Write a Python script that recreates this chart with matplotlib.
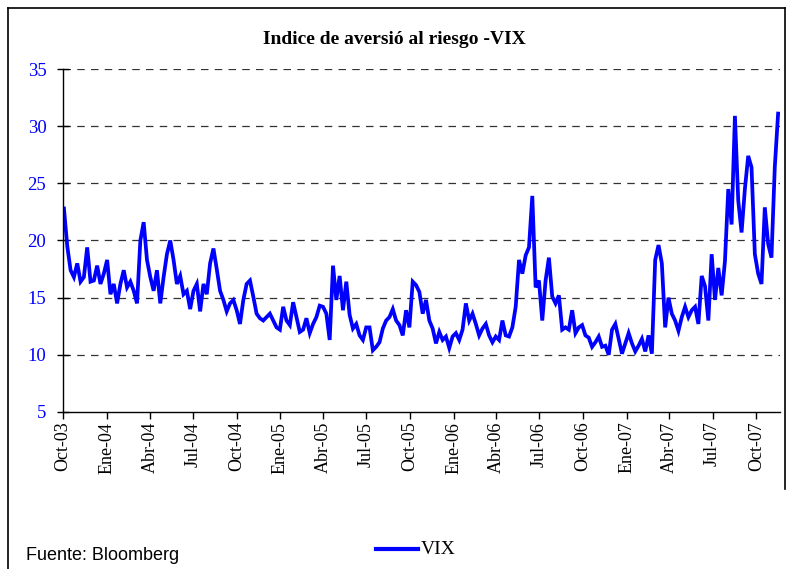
import numpy as np
import pandas as pd
import matplotlib
matplotlib.use("Agg")
import matplotlib.pyplot as plt
import matplotlib.dates as mdates
from matplotlib.lines import Line2D

# weekly VIX readings (Fridays), Oct-2003 .. Nov-2007
start_date = "2003-10-03"
vix = [
    22.8, 19.5, 17.4, 16.8, 18.0, 16.4, 16.8, 19.4, 16.4, 16.5,
    17.8, 16.2, 17.1, 18.3, 15.3, 16.2, 14.5, 16.2, 17.4, 15.9,
    16.4, 15.6, 14.5, 20.0, 21.6, 18.3, 16.8, 15.6, 17.4, 14.5,
    16.8, 18.8, 20.0, 18.3, 16.2, 16.9, 15.3, 15.6, 14.0, 15.6,
    16.2, 13.8, 16.2, 15.3, 18.0, 19.3, 17.5, 15.6, 14.8, 13.8,
    14.5, 14.8, 13.9, 12.7, 14.8, 16.2, 16.5, 15.1, 13.6, 13.2,
    13.0, 13.3, 13.6, 13.0, 12.4, 12.2, 14.2, 13.0, 12.6, 14.6,
    13.3, 12.0, 12.2, 13.2, 11.9, 12.7, 13.3, 14.3, 14.2, 13.6,
    11.3, 17.8, 14.8, 16.9, 13.9, 16.4, 13.5, 12.3, 12.7, 11.7,
    11.3, 12.4, 12.4, 10.4, 10.7, 11.1, 12.3, 13.0, 13.3, 14.0,
    13.0, 12.6, 11.7, 13.9, 12.4, 16.4, 16.1, 15.5, 13.6, 14.8,
    13.0, 12.3, 11.0, 12.0, 11.3, 11.6, 10.6, 11.6, 11.9, 11.3,
    12.2, 14.5, 13.0, 13.6, 12.7, 11.7, 12.3, 12.7, 11.7, 11.1,
    11.6, 11.3, 13.0, 11.7, 11.6, 12.4, 14.2, 18.3, 17.1, 18.7,
    19.4, 23.9, 15.9, 16.5, 13.0, 16.5, 18.5, 15.1, 14.5, 15.2,
    12.2, 12.4, 12.2, 13.9, 11.9, 12.4, 12.6, 11.7, 11.5, 10.7,
    11.1, 11.6, 10.7, 10.8, 10.0, 12.2, 12.7, 11.4, 10.1, 11.0,
    11.9, 11.0, 10.3, 10.8, 11.4, 10.3, 11.7, 10.1, 18.3, 19.6,
    18.0, 12.4, 15.0, 13.6, 13.0, 12.1, 13.3, 14.2, 13.3, 13.9,
    14.2, 12.7, 16.9, 16.0, 13.0, 18.8, 14.8, 17.6, 15.2, 18.2,
    24.5, 21.4, 30.9, 23.5, 20.7, 24.5, 27.4, 26.4, 18.8, 17.1,
    16.2, 22.9, 19.7, 18.5, 26.4, 31.1,
]
tick_dates = ["2003-10-01", "2004-01-01", "2004-04-01", "2004-07-01",
              "2004-10-01", "2005-01-01", "2005-04-01", "2005-07-01",
              "2005-10-01", "2006-01-01", "2006-04-01", "2006-07-01",
              "2006-10-01", "2007-01-01", "2007-04-01", "2007-07-01",
              "2007-10-01"]
tick_labels = ["Oct-03", "Ene-04", "Abr-04", "Jul-04", "Oct-04", "Ene-05",
               "Abr-05", "Jul-05", "Oct-05", "Ene-06", "Abr-06", "Jul-06",
               "Oct-06", "Ene-07", "Abr-07", "Jul-07", "Oct-07"]
y_ticks = [5, 10, 15, 20, 25, 30, 35]

dates = pd.date_range(start_date, periods=len(vix), freq="W-FRI")

serif = ["Liberation Serif", "DejaVu Serif"]
fig = plt.figure(figsize=(7.89, 5.69), dpi=100)
ax = fig.add_axes([63 / 789, 1 - 412 / 569, 717 / 789, 343 / 569])

ax.plot(dates, vix, color="#0000ff", lw=2.7, solid_joinstyle="miter")

ax.set_ylim(5, 35)
ax.set_yticks(y_ticks)
ax.set_xlim(pd.Timestamp("2003-10-01"), pd.Timestamp("2007-11-20"))
ax.set_xticks(pd.to_datetime(tick_dates))
ax.set_xticklabels(tick_labels, rotation=90, family=serif, fontsize=13)
for lab in ax.get_yticklabels():
    lab.set_family(serif)
    lab.set_fontsize(13.5)
    lab.set_color("#0000ff")

for v in y_ticks[1:]:
    ax.axhline(v, color="#333333", lw=0.9, ls=(0, (6, 5)), zorder=0)

for s in ["top", "right"]:
    ax.spines[s].set_visible(False)
ax.spines["left"].set_linewidth(1.0)
ax.spines["bottom"].set_linewidth(1.0)
ax.tick_params(axis="y", direction="inout", length=8, width=1, pad=8)
ax.tick_params(axis="x", direction="out", length=5, width=1, pad=2)

fig.text(0.5, 1 - 40 / 569, "Indice de aversió al riesgo -VIX", ha="center",
         va="center", family=serif, fontweight="bold", fontsize=14)

# legend
leg_line = Line2D([376 / 789, 418 / 789], [1 - 549 / 569, 1 - 549 / 569],
                  transform=fig.transFigure, color="#0000ff", lw=3)
fig.add_artist(leg_line)
fig.text(421 / 789, 1 - 549 / 569, "VIX", ha="left", va="center",
         family=serif, fontsize=14)
fig.text(26 / 789, 1 - 555 / 569, "Fuente: Bloomberg", ha="left",
         va="center", family=["Liberation Sans", "DejaVu Sans"], fontsize=13)

# chart frame
frame_kw = dict(transform=fig.transFigure, color="black", lw=1.2)
fig.add_artist(Line2D([8 / 789, 8 / 789], [0, 1 - 8 / 569], **frame_kw))
fig.add_artist(Line2D([8 / 789, 785 / 789], [1 - 8 / 569, 1 - 8 / 569], **frame_kw))
fig.add_artist(Line2D([785 / 789, 785 / 789], [1 - 8 / 569, 1 - 489 / 569], **frame_kw))

fig.savefig("out.png", dpi=100)
